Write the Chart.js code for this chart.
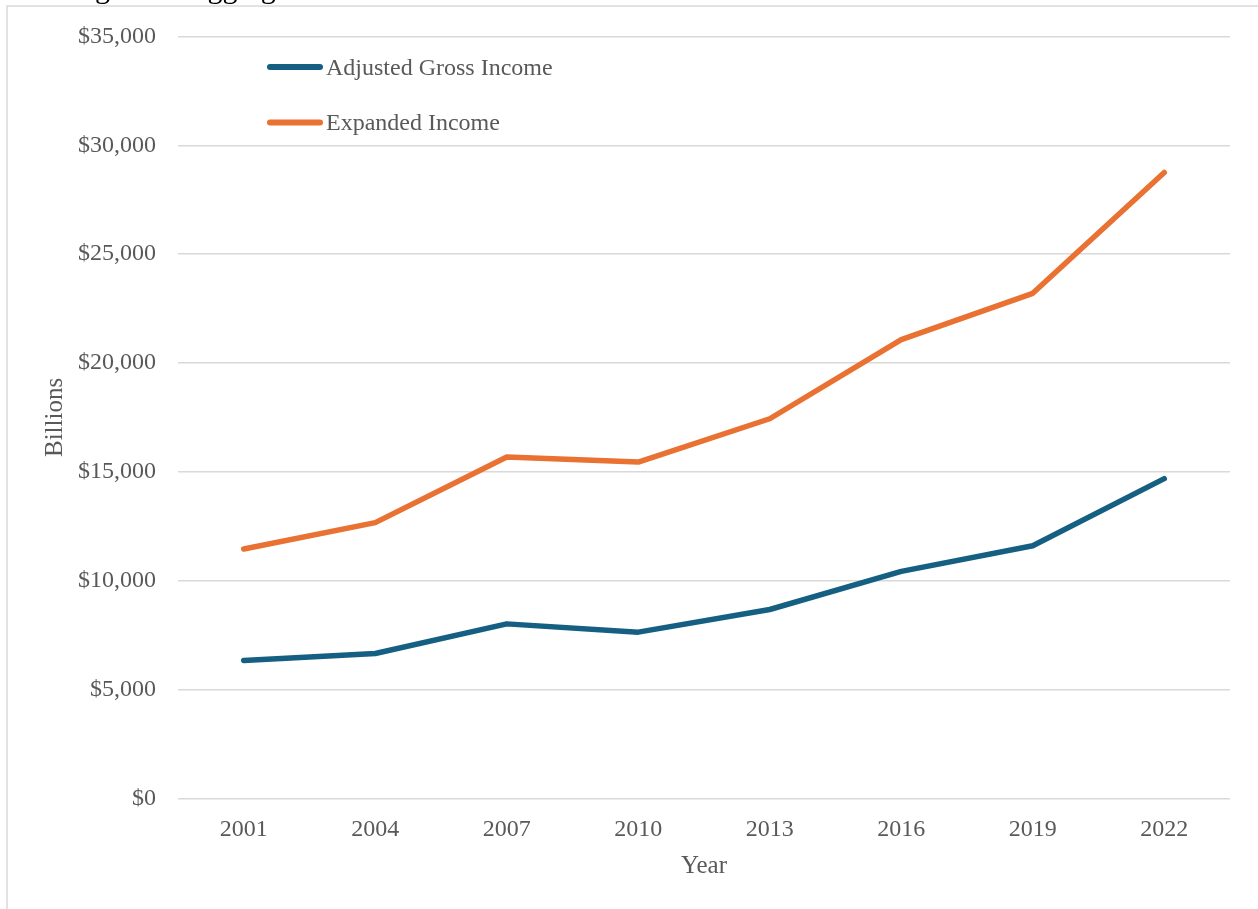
<!DOCTYPE html>
<html>
<head>
<meta charset="utf-8">
<title>Aggregate Income</title>
<script src="https://cdn.jsdelivr.net/npm/chart.js@4/dist/chart.umd.min.js"></script>
<style>
  html, body { margin: 0; padding: 0; background: #ffffff; }
  #wrap { width: 1258px; height: 909px; position: relative; }
</style>
</head>
<body>
<div id="wrap"><canvas id="chart" width="1258" height="909"></canvas></div>
<script>
// Survey years on the category axis
const years = ['2001', '2004', '2007', '2010', '2013', '2016', '2019', '2022'];

// Aggregate income, billions of dollars
const adjustedGrossIncome = [6340, 6660, 8020, 7640, 8680, 10430, 11610, 14690];
const expandedIncome = [11460, 12670, 15680, 15450, 17440, 21070, 23200, 28750];

const seriesNames = ['Adjusted Gross Income', 'Expanded Income'];
const seriesColors = ['#156082', '#E97132'];

const figureTitle = 'Figure 1. Aggregate Income';
const yAxisTitle = 'Billions';
const xAxisTitle = 'Year';

const serif = "'Liberation Serif', 'Times New Roman', serif";
const textGray = '#595959';
const gridGray = '#d9d9d9';

// Frame around the figure plus the caption line sitting above it
const framePlugin = {
  id: 'frame',
  beforeDraw(chart) {
    const ctx = chart.ctx;
    ctx.save();
    ctx.fillStyle = '#ffffff';
    ctx.fillRect(0, 0, chart.width, chart.height);
    ctx.font = '30px ' + serif;
    ctx.fillStyle = '#000000';
    ctx.textAlign = 'left';
    ctx.textBaseline = 'alphabetic';
    ctx.fillText(figureTitle, 70, -2.5);
    ctx.strokeStyle = gridGray;
    ctx.lineWidth = 1.5;
    ctx.beginPath();
    ctx.moveTo(7, chart.height + 2);
    ctx.lineTo(7, 6);
    ctx.lineTo(chart.width + 2, 6);
    ctx.stroke();
    ctx.restore();
  }
};

// Legend stacked in the upper-left of the plot area
const legendPlugin = {
  id: 'stackedLegend',
  afterDraw(chart) {
    const ctx = chart.ctx;
    const rows = [67, 122.5];
    ctx.save();
    chart.data.datasets.forEach((ds, i) => {
      const y = rows[i];
      ctx.strokeStyle = ds.borderColor;
      ctx.lineWidth = 6;
      ctx.lineCap = 'round';
      ctx.beginPath();
      ctx.moveTo(270, y);
      ctx.lineTo(320, y);
      ctx.stroke();
      ctx.font = '24px ' + serif;
      ctx.fillStyle = textGray;
      ctx.textAlign = 'left';
      ctx.textBaseline = 'middle';
      ctx.fillText(ds.label, 326, y + 1.5);
    });
    ctx.restore();
  }
};

new Chart(document.getElementById('chart'), {
  type: 'line',
  data: {
    labels: years,
    datasets: [
      {
        label: seriesNames[0],
        data: adjustedGrossIncome,
        borderColor: seriesColors[0],
        backgroundColor: seriesColors[0]
      },
      {
        label: seriesNames[1],
        data: expandedIncome,
        borderColor: seriesColors[1],
        backgroundColor: seriesColors[1]
      }
    ]
  },
  options: {
    responsive: false,
    animation: false,
    devicePixelRatio: 1,
    layout: { padding: { top: 35, right: 28, bottom: 0, left: 0 } },
    elements: {
      line: { borderWidth: 5.5, tension: 0, borderCapStyle: 'round', borderJoinStyle: 'round' },
      point: { radius: 0, hoverRadius: 0 }
    },
    plugins: {
      legend: { display: false },
      tooltip: { enabled: false },
      title: { display: false }
    },
    scales: {
      x: {
        offset: true,
        grid: { display: false, drawTicks: false },
        border: { display: false },
        ticks: {
          color: textGray,
          font: { family: serif, size: 24 },
          padding: 17,
          maxRotation: 0
        },
        title: {
          display: true,
          text: xAxisTitle,
          color: textGray,
          font: { family: serif, size: 25 },
          padding: { top: 0, bottom: 28 }
        },
        afterFit(scale) { scale.height = 909 - 798.5; }
      },
      y: {
        min: 0,
        max: 35000,
        grid: { color: gridGray, lineWidth: 1.5, drawTicks: false },
        border: { display: false },
        ticks: {
          stepSize: 5000,
          color: textGray,
          font: { family: serif, size: 24 },
          padding: 22,
          callback: (v) => '$' + Number(v).toLocaleString('en-US')
        },
        title: {
          display: true,
          text: yAxisTitle,
          color: textGray,
          font: { family: serif, size: 25 },
          padding: { top: 40, bottom: 0 }
        },
        afterFit(scale) { scale.width = 178; }
      }
    }
  },
  plugins: [framePlugin, legendPlugin]
});
</script>
</body>
</html>
